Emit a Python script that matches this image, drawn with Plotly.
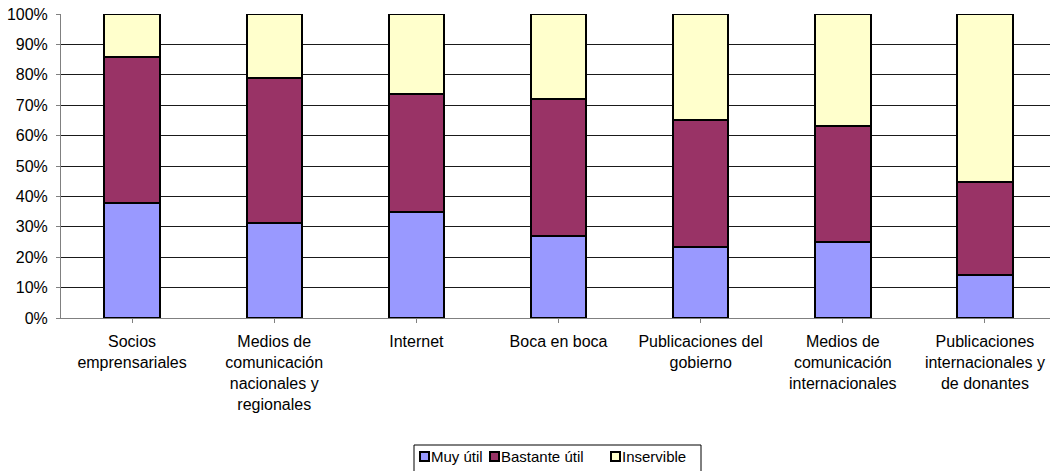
import plotly.graph_objects as go

# Information sources and how useful respondents found each one (% of answers)
categories = [
    "Socios<br>emprensariales",
    "Medios de<br>comunicación<br>nacionales y<br>regionales",
    "Internet",
    "Boca en boca",
    "Publicaciones del<br>gobierno",
    "Medios de<br>comunicación<br>internacionales",
    "Publicaciones<br>internacionales y<br>de donantes",
]
muy_util = [37.8, 31.4, 34.9, 27.1, 23.3, 25.1, 14.3]
bastante_util = [48.0, 47.7, 38.9, 45.0, 41.8, 37.9, 30.4]
inservible = [14.2, 20.9, 26.2, 27.9, 34.9, 37.0, 55.3]

series_names = ["Muy útil", "Bastante útil", "Inservible"]
series_colors = ["#9999FF", "#993366", "#FFFFCC"]
y_ticks = list(range(0, 101, 10))
y_tick_labels = [f"{v}%" for v in y_ticks]

FONT = "Liberation Sans, Arial, sans-serif"
W, H = 1050, 471
ML, MR, MT, MB = 61, 0, 14, 153
PW, PH = W - ML - MR, H - MT - MB


def px_x(px):
    return (px - ML) / PW


def px_y(py):
    return (H - MB - py) / PH


fig = go.Figure()
x_idx = list(range(len(categories)))
for name, vals, col in zip(series_names, [muy_util, bastante_util, inservible], series_colors):
    fig.add_trace(go.Bar(
        x=x_idx, y=vals, name=name, width=0.39,
        marker=dict(color=col, line=dict(color="#000000", width=2)),
        showlegend=False,
    ))

# Legend box drawn by hand for a compact Excel-like look
fig.add_shape(type="rect", xref="paper", yref="paper",
              x0=px_x(414), x1=px_x(701), y0=px_y(445), y1=px_y(485),
              line=dict(color="#000000", width=1), fillcolor="#FFFFFF", layer="above")
legend_sq = [420, 490, 611]
for sx, name, col in zip(legend_sq, series_names, series_colors):
    fig.add_shape(type="rect", xref="paper", yref="paper",
                  x0=px_x(sx), x1=px_x(sx + 9), y0=px_y(452), y1=px_y(461),
                  line=dict(color="#000000", width=2), fillcolor=col,
                  layer="above")
    fig.add_annotation(text=name, xref="paper", yref="paper",
                       x=px_x(sx + 10), y=px_y(456.5), xanchor="left", yanchor="middle",
                       showarrow=False, borderpad=0,
                       font=dict(family=FONT, size=15, color="#000000"))

fig.update_layout(
    width=W, height=H,
    margin=dict(l=ML, r=MR, t=MT, b=MB),
    barmode="stack",
    paper_bgcolor="#FFFFFF", plot_bgcolor="#FFFFFF",
    font=dict(family=FONT, size=16, color="#000000"),
    xaxis=dict(
        tickmode="array", tickvals=x_idx, ticktext=categories,
        range=[-0.5, 6.5 - 6 / 142], tickson="boundaries",
        ticks="outside", ticklen=4, tickcolor="#808080",
        showline=True, linecolor="#808080", linewidth=1,
        showgrid=False, tickangle=0, fixedrange=True,
        ticklabelstandoff=5,
    ),
    yaxis=dict(
        range=[0, 100], tickvals=y_ticks, ticktext=y_tick_labels,
        ticks="outside", ticklen=4, tickcolor="#808080",
        showline=True, linecolor="#808080", linewidth=1,
        showgrid=True, gridcolor="#1a1a1a", gridwidth=1,
        zeroline=False, ticklabelstandoff=5, fixedrange=True,
    ),
)

fig.write_html("out.html")
